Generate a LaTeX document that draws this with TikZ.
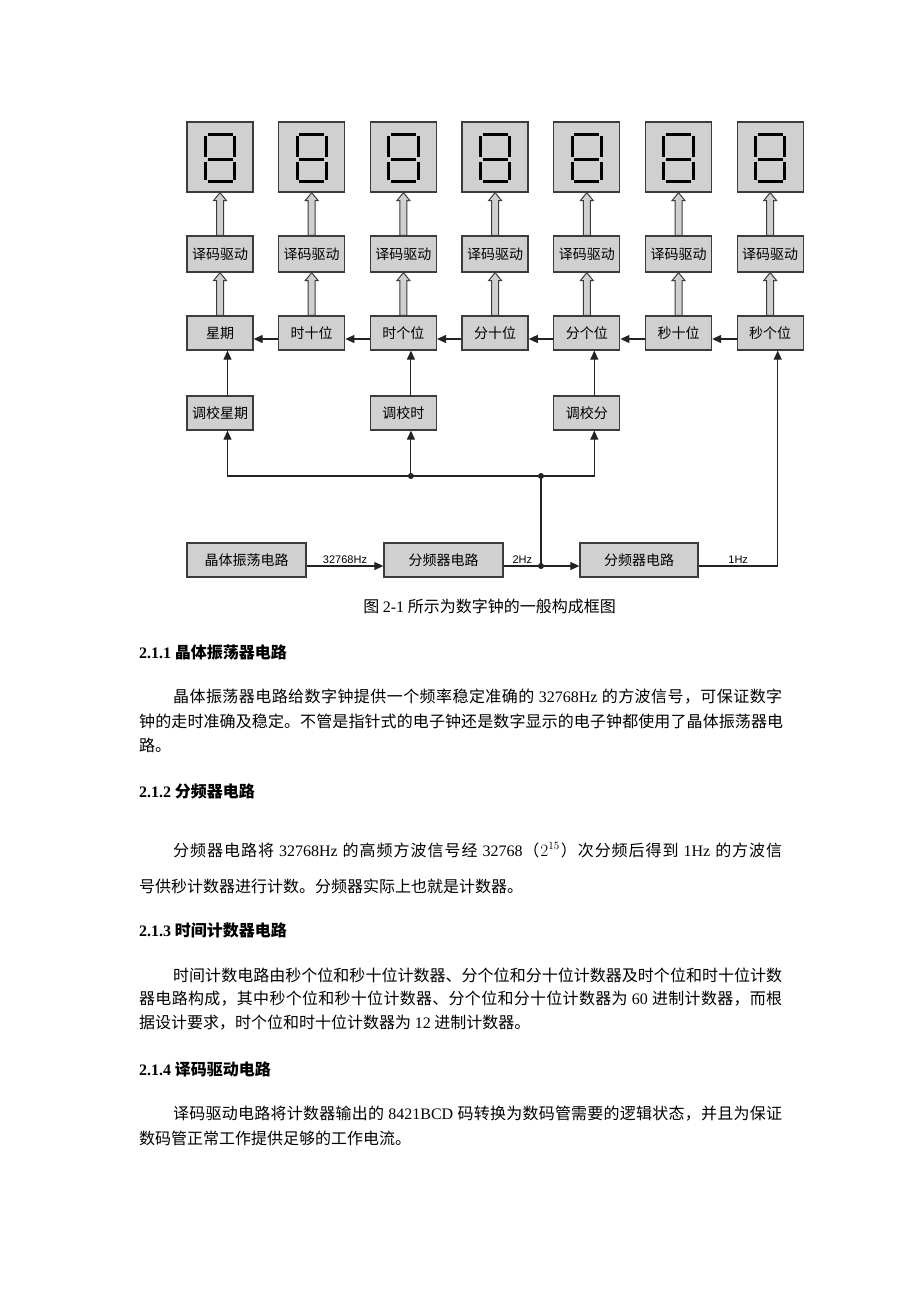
\documentclass[tikz,border=0pt]{standalone}
\usepackage{fontspec}
\setmainfont{Liberation Serif}
\newfontfamily\cjk{Noto Sans CJK SC}
\newfontfamily\lbl{Liberation Sans}
\usepackage{tikz}
\usetikzlibrary{arrows.meta,calc,positioning}

\definecolor{boxfill}{RGB}{208,208,208}
\definecolor{boxline}{RGB}{60,60,60}
\definecolor{wirecol}{RGB}{35,35,35}

\makeatletter
\def\spread@end{\spread@end}
\def\spread@first#1{#1\spread@loop}
\def\spread@loop#1{\ifx\spread@end#1\else\hskip 0pt plus 1fil#1\expandafter\spread@loop\fi}
\newcommand{\spreadline}[2]{\hbox to #1{\spread@first#2\spread@end}}
\makeatother

\newcommand{\latn}[1]{{\rmfamily #1}}
\newcommand{\eightseg}[1]{%
  \begin{scope}[shift={(#1.center)}]
    \draw[segline] (-12.5,-23) -- (12.5,-23) (-12.5,2) -- (12.5,2) (-12.5,24) -- (12.5,24)
      (-14.7,-21) -- (-14.7,-0.5) (14.7,-21) -- (14.7,-0.5)
      (-14.7,4.5) -- (-14.7,22.5) (14.7,4.5) -- (14.7,22.5);
  \end{scope}}
\newcommand{\fatarrow}[2]{%
  \filldraw[fat] ($(#1)+(-3.5,0)$) -- ($(#2)+(-3.5,8)$) -- ($(#2)+(-6.5,8)$) -- (#2)
    -- ($(#2)+(6.5,8)$) -- ($(#2)+(3.5,8)$) -- ($(#1)+(3.5,0)$) -- cycle;}

\begin{document}
\begin{tikzpicture}[x=1pt,y=-1pt,
    box/.style={draw=boxline,fill=boxfill,line width=1.3pt,inner sep=0pt,font=\cjk\fontsize{14}{14}\selectfont},
    dispbox/.style={box,minimum width=66pt,minimum height=70pt},
    decbox/.style={box,minimum width=66pt,minimum height=36pt},
    cntbox/.style={box,minimum width=66pt,minimum height=34pt},
    longbox/.style={box,minimum width=119pt,minimum height=34pt},
    wire/.style={draw=wirecol,line width=1.1pt},
    sig/.style={wire,-{Triangle[length=9pt,width=8pt]}},
    fat/.style={draw=boxline,fill=boxfill,line width=1pt},
    segline/.style={line width=3pt,black},
    freq/.style={font=\lbl\fontsize{11}{11}\selectfont,inner sep=2pt,above},
    body/.style={anchor=west,inner sep=0pt,font=\cjk\fontsize{16}{16}\selectfont},
    head/.style={body,font=\cjk\bfseries\fontsize{16}{16}\selectfont}]
  \useasboundingbox (0,0) rectangle (920,1302);
  \fill[white] (0,0) rectangle (920,1302);

  \node[dispbox] (disp1) at (220,157) {};
  \node[dispbox] (disp2) at (311.7,157) {};
  \node[dispbox] (disp3) at (403.4,157) {};
  \node[dispbox] (disp4) at (495.1,157) {};
  \node[dispbox] (disp5) at (586.8,157) {};
  \node[dispbox] (disp6) at (678.5,157) {};
  \node[dispbox] (disp7) at (770.2,157) {};

  \node[decbox] (dec1) at (220,254) {译码驱动};
  \node[decbox] (dec2) at (311.7,254) {译码驱动};
  \node[decbox] (dec3) at (403.4,254) {译码驱动};
  \node[decbox] (dec4) at (495.1,254) {译码驱动};
  \node[decbox] (dec5) at (586.8,254) {译码驱动};
  \node[decbox] (dec6) at (678.5,254) {译码驱动};
  \node[decbox] (dec7) at (770.2,254) {译码驱动};

  \node[cntbox] (cnt1) at (220,333) {星期};
  \node[cntbox] (cnt2) at (311.7,333) {时十位};
  \node[cntbox] (cnt3) at (403.4,333) {时个位};
  \node[cntbox] (cnt4) at (495.1,333) {分十位};
  \node[cntbox] (cnt5) at (586.8,333) {分个位};
  \node[cntbox] (cnt6) at (678.5,333) {秒十位};
  \node[cntbox] (cnt7) at (770.2,333) {秒个位};

  \node[cntbox] (adj1) at (220,413) {调校星期};
  \node[cntbox] (adj3) at (403.4,413) {调校时};
  \node[cntbox] (adj5) at (586.8,413) {调校分};

  \node[longbox] (osc) at (246.5,560) {晶体振荡电路};
  \node[longbox] (div1) at (443.5,560) {分频器电路};
  \node[longbox,minimum width=118pt] (div2) at (639,560) {分频器电路};

  \coordinate (jh) at (410.9,476);
  \coordinate (jm) at (541,476);
  \coordinate (jd) at (541,566);

  \eightseg{disp1} \eightseg{disp2} \eightseg{disp3} \eightseg{disp4}
  \eightseg{disp5} \eightseg{disp6} \eightseg{disp7}

  \fatarrow{dec1.north}{disp1.south} \fatarrow{dec2.north}{disp2.south}
  \fatarrow{dec3.north}{disp3.south} \fatarrow{dec4.north}{disp4.south}
  \fatarrow{dec5.north}{disp5.south} \fatarrow{dec6.north}{disp6.south}
  \fatarrow{dec7.north}{disp7.south}
  \fatarrow{cnt1.north}{dec1.south} \fatarrow{cnt2.north}{dec2.south}
  \fatarrow{cnt3.north}{dec3.south} \fatarrow{cnt4.north}{dec4.south}
  \fatarrow{cnt5.north}{dec5.south} \fatarrow{cnt6.north}{dec6.south}
  \fatarrow{cnt7.north}{dec7.south}

  \draw[sig] ([yshift=-6pt]cnt7.west) -- ([yshift=-6pt]cnt6.east);
  \draw[sig] ([yshift=-6pt]cnt6.west) -- ([yshift=-6pt]cnt5.east);
  \draw[sig] ([yshift=-6pt]cnt5.west) -- ([yshift=-6pt]cnt4.east);
  \draw[sig] ([yshift=-6pt]cnt4.west) -- ([yshift=-6pt]cnt3.east);
  \draw[sig] ([yshift=-6pt]cnt3.west) -- ([yshift=-6pt]cnt2.east);
  \draw[sig] ([yshift=-6pt]cnt2.west) -- ([yshift=-6pt]cnt1.east);

  \draw[sig] ([xshift=7.5pt]adj1.north) -- ([xshift=7.5pt]cnt1.south);
  \draw[sig] ([xshift=7.5pt]adj3.north) -- ([xshift=7.5pt]cnt3.south);
  \draw[sig] ([xshift=7.5pt]adj5.north) -- ([xshift=7.5pt]cnt5.south);

  \draw[sig] (jh) -| ([xshift=7.5pt]adj1.south);
  \draw[sig] (jh) -- ([xshift=7.5pt]adj3.south);
  \draw[sig] (jm) -| ([xshift=7.5pt]adj5.south);
  \draw[wire] (jh) -- (jm) -- (jd);

  \draw[sig] ([yshift=-6pt]osc.east) -- ([yshift=-6pt]div1.west) node[freq,midway] {32768Hz};
  \draw[wire] ([yshift=-6pt]div1.east) -- (jd) node[freq,midway] {2Hz};
  \draw[sig] (jd) -- ([yshift=-6pt]div2.west);
  \draw[sig] ([yshift=-6pt]div2.east) -| ([xshift=7.5pt]cnt7.south) node[freq,pos=0.25] {1Hz};
  \fill[wirecol] (jh) circle (3pt) (jm) circle (3pt) (jd) circle (3pt);

  \node[body,anchor=center] (cap) at (489.5,606) {图 \latn{2-1} 所示为数字钟的一般构成框图};

  \node[head] (h1) at (139,652) {\latn{2.1.1} 晶体振荡器电路};
  \node[body] (p1a) at (173,697) {\spreadline{609pt}{晶体振荡器电路给数字钟提供一个频率稳定准确的{\latn{ 32768Hz }}的方波信号，可保证数字}};
  \node[body] (p1b) at (139,721) {\spreadline{644pt}{钟的走时准确及稳定。不管是指针式的电子钟还是数字显示的电子钟都使用了晶体振荡器电}};
  \node[body] (p1c) at (139,745) {路。};

  \node[head] (h2) at (139,791) {\latn{2.1.2} 分频器电路};
  \node[body] (p2a) at (173,850) {\spreadline{609pt}{分频器电路将{\latn{ 32768Hz }}的高频方波信号经{\latn{ 32768}}（{$2^{15}$}）次分频后得到{\latn{ 1Hz }}的方波信}};
  \node[body] (p2b) at (139,886) {号供秒计数器进行计数。分频器实际上也就是计数器。};

  \node[head] (h3) at (139,930) {\latn{2.1.3} 时间计数器电路};
  \node[body] (p3a) at (173,975) {\spreadline{609pt}{时间计数电路由秒个位和秒十位计数器、分个位和分十位计数器及时个位和时十位计数}};
  \node[body] (p3b) at (139,999) {\spreadline{643pt}{器电路构成，其中秒个位和秒十位计数器、分个位和分十位计数器为{\latn{ 60 }}进制计数器，而根}};
  \node[body] (p3c) at (139,1023) {据设计要求，时个位和时十位计数器为 \latn{12} 进制计数器。};

  \node[head] (h4) at (139,1069) {\latn{2.1.4} 译码驱动电路};
  \node[body] (p4a) at (173,1114) {\spreadline{609pt}{译码驱动电路将计数器输出的{\latn{ 8421BCD }}码转换为数码管需要的逻辑状态，并且为保证}};
  \node[body] (p4b) at (139,1138) {数码管正常工作提供足够的工作电流。};
\end{tikzpicture}
\end{document}
